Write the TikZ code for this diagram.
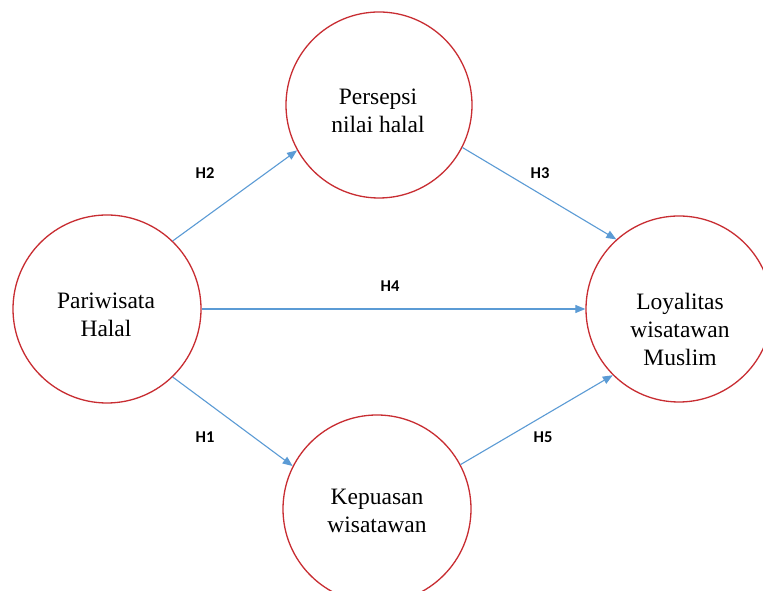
\documentclass[tikz,border=0pt]{standalone}
\usepackage{fontspec}
\setmainfont{Liberation Serif}
\newfontfamily\labfont{Carlito}
\usetikzlibrary{arrows.meta}
\definecolor{circred}{RGB}{200,45,50}
\definecolor{arrblue}{RGB}{91,155,213}
\begin{document}
\begin{tikzpicture}[x=1pt,y=1pt,
  var/.style={circle,draw=circred,line width=1.3pt,minimum size=#1,inner sep=0pt},
  vtext/.style={align=center,anchor=base,inner sep=0pt,font=\fontsize{23.5}{28}\selectfont},
  hyp/.style={draw=arrblue,line width=1.1pt,-{Triangle[length=10pt,width=8pt]}},
  hlab/.style={inner sep=0pt,font=\labfont\bfseries\fontsize{16.5}{18}\selectfont}]
\useasboundingbox (0,0) rectangle (763,591);
\clip (0,0) rectangle (763,591);
\fill[white] (0,0) rectangle (763,591);
\node[var=188pt] (L) at (107,282) {};
\node[var=186pt] (T) at (379,486) {};
\node[var=188pt] (B) at (377,82) {};
\node[var=186pt] (R) at (679,282) {};
\node[vtext] (Lt) at (106,254) {Pariwisata\\Halal};
\node[vtext] (Tt) at (378,458) {Persepsi\\nilai halal};
\node[vtext] (Bt) at (377,58) {Kepuasan\\wisatawan};
\node[vtext] (Rt) at (680,225) {Loyalitas\\wisatawan\\Muslim};
\draw[hyp] (L.46) -- (T.209);
\draw[hyp] (T.-27) -- (R.132);
\draw[hyp] (L.0) -- (R.180);
\draw[hyp] (L.-46) -- (B.153);
\draw[hyp] (B.28) -- (R.225);
\node[hlab] (h2) at (205,418) {H2};
\node[hlab] (h3) at (540,418) {H3};
\node[hlab] (h4) at (390,305) {H4};
\node[hlab] (h1) at (205,154) {H1};
\node[hlab] (h5) at (543,154) {H5};
\end{tikzpicture}
\end{document}
